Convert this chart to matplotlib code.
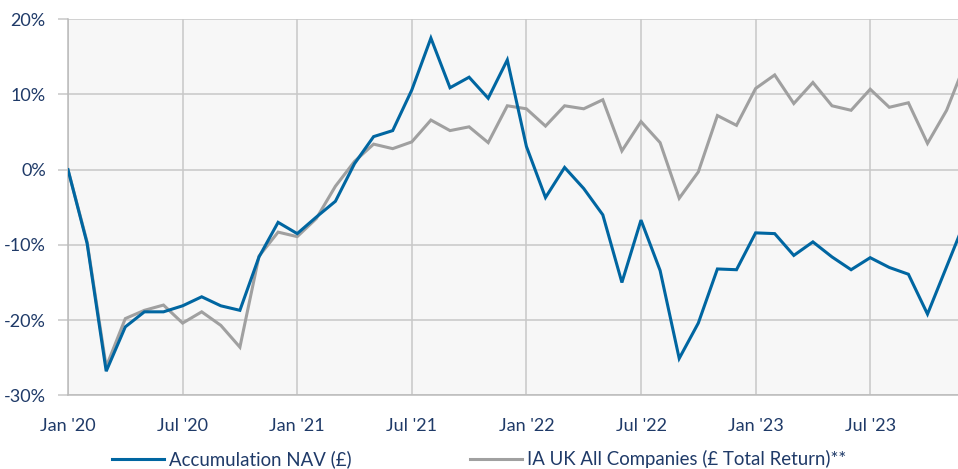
import matplotlib
matplotlib.use("Agg")
import matplotlib.pyplot as plt
from matplotlib.ticker import FuncFormatter, MultipleLocator

plt.rcParams['font.family'] = ['Lato', 'DejaVu Sans']

# Monthly points, Jan 2020 (index 0) to Dec 2023 (index 47)
nav = [0.0, -9.8, -26.8, -20.9, -18.9, -18.9, -18.1, -16.9, -18.1, -18.7,
       -11.6, -7.0, -8.5, -6.3, -4.2, 0.8, 4.4, 5.2, 10.6, 17.5,
       10.9, 12.3, 9.5, 14.6, 3.1, -3.7, 0.3, -2.5, -6.0, -15.0,
       -6.7, -13.4, -25.1, -20.4, -13.2, -13.3, -8.4, -8.5, -11.4, -9.6,
       -11.6, -13.3, -11.7, -13.0, -13.9, -19.2, -12.9, -6.6]
ia = [0.0, -9.6, -26.2, -19.8, -18.7, -18.0, -20.4, -18.9, -20.7, -23.6,
      -11.5, -8.3, -8.9, -6.5, -2.2, 1.1, 3.4, 2.8, 3.7, 6.6,
      5.2, 5.7, 3.6, 8.5, 8.1, 5.8, 8.5, 8.1, 9.3, 2.5,
      6.4, 3.6, -3.8, -0.3, 7.2, 5.9, 10.8, 12.6, 8.8, 11.6,
      8.5, 7.9, 10.7, 8.3, 8.9, 3.5, 7.9, 14.3]
tick_labels = ["Jan '20", "Jul '20", "Jan '21", "Jul '21", "Jan '22",
               "Jul '22", "Jan '23", "Jul '23"]
series_names = ["Accumulation NAV (£)", "IA UK All Companies (£ Total Return)**"]

blue = '#0066A1'
grey = '#A0A0A0'
txt = '#1F3A68'
gridc = '#C8C8C8'

W, H = 958, 469
fig = plt.figure(figsize=(W / 100, H / 100), dpi=100)
x0, x1, ytop, ybot = 68, 958, 19.3, 395.3
ax = fig.add_axes([x0 / W, 1 - ybot / H, (x1 - x0) / W, (ybot - ytop) / H])
ax.set_facecolor('#F7F7F7')

months = list(range(len(nav)))
l1, = ax.plot(months, nav, color=blue, lw=2.2, solid_joinstyle='miter', zorder=3)
l2, = ax.plot(months, ia, color=grey, lw=2.2, solid_joinstyle='miter', zorder=2)

ax.set_xlim(0, (x1 - x0) / 19.1)
ax.set_ylim(-30, 20)
ax.yaxis.set_major_locator(MultipleLocator(10))
ax.yaxis.set_major_formatter(FuncFormatter(lambda v, p: f"{int(round(v))}%"))
ax.set_xticks(range(0, 6 * len(tick_labels), 6))
ax.set_xticklabels(tick_labels)

ax.grid(True, color=gridc, lw=1.1, zorder=0)
ax.set_axisbelow(True)
for s in ['top', 'right']:
    ax.spines[s].set_visible(False)
for s in ['left', 'bottom']:
    ax.spines[s].set_color('#BBBBBB')
    ax.spines[s].set_linewidth(1.1)

ax.tick_params(axis='y', length=7, width=1.1, color=gridc, labelsize=13,
               labelcolor=txt, pad=9)
ax.tick_params(axis='x', length=0, labelsize=13, labelcolor=txt, pad=16)

fig.legend([l1, l2], series_names, loc='center', bbox_to_anchor=(0.5, 1 - 459 / H),
           ncol=2, frameon=False, fontsize=13.4, labelcolor=txt, handlelength=2.8,
           handletextpad=0.25, columnspacing=6.4)

fig.savefig('out.png', dpi=100)
